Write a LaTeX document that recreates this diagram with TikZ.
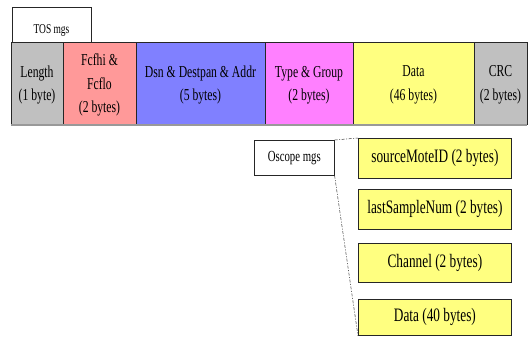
\documentclass[tikz,border=0pt]{standalone}
\usepackage{fontspec}
\setmainfont{Liberation Serif}[FakeStretch=0.7]
\begin{document}
\begin{tikzpicture}[x=1pt,y=-1pt,
  tag/.style={draw=black!85, line width=0.6pt, fill=white},
  sub/.style={draw=black!85, line width=0.8pt, fill=subyellow, font=\fontsize{19}{22}\selectfont},
  link/.style={black!80, line width=0.5pt, dash pattern=on 3pt off 1.5pt on 1pt off 1.5pt}]
\definecolor{cgray}{HTML}{C0C0C0}
\definecolor{csalmon}{HTML}{FF9999}
\definecolor{cblue}{HTML}{8080FF}
\definecolor{cmagenta}{HTML}{FF80FF}
\definecolor{subyellow}{HTML}{FFFF80}
\useasboundingbox (0,0) rectangle (528,338);
% frame header tab
\draw[tag] (12,7) rectangle (91,42);
\node[font=\fontsize{13.5}{16}\selectfont] (tos) at (51.5,30) {TOS mgs};
% frame fields
\foreach \xa/\xb/\col/\txt [count=\i] in {
  11/63/cgray/{Length\\(1 byte)},
  63/136/csalmon/{Fcfhi \&\\Fcflo\\(2 bytes)},
  136/265/cblue/{Dsn \& Destpan \& Addr\\(5 bytes)},
  265/353/cmagenta/{Type \& Group\\(2 bytes)},
  353/474/subyellow/{Data\\(46 bytes)},
  474/527/cgray/{CRC\\(2 bytes)}}{
  \filldraw[draw=black!85, line width=0.8pt, fill=\col] (\xa,42) rectangle (\xb,124);
  \node[align=center, font=\fontsize{16.7}{23.5}\selectfont] (f\i) at ({(\xa+\xb)/2},85) {\txt};
}
\draw[black!40, line width=1.2pt] (11,125) -- (527,125);
% payload label
\node[tag, minimum width=80pt, minimum height=35pt, inner sep=0pt, font=\fontsize{15.4}{18}\selectfont, anchor=north west] (osc) at (254,140) {Oscope mgs};
% payload fields
\node[sub, minimum width=153pt, minimum height=40pt, inner sep=0pt, anchor=north west] (p1) at (358,138) {sourceMoteID (2 bytes)};
\node[sub, minimum width=153pt, minimum height=40pt, inner sep=0pt, anchor=north west] (p2) at (358,189) {lastSampleNum (2 bytes)};
\node[sub, minimum width=153pt, minimum height=39pt, inner sep=0pt, anchor=north west] (p3) at (358,243) {Channel (2 bytes)};
\node[sub, minimum width=153pt, minimum height=36pt, inner sep=0pt, anchor=north west] (p4) at (358,299) {Data (40 bytes)};
% expansion guides
\draw[link] (osc.north east) -- (p1.north west);
\draw[link] (osc.south east) -- (p4.south west);
\end{tikzpicture}
\end{document}
